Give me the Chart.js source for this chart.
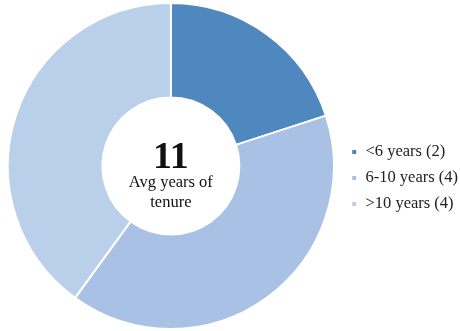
<!DOCTYPE html>
<html>
<head>
<meta charset="utf-8">
<script src="https://cdn.jsdelivr.net/npm/chart.js@4"></script>
<style>
  html, body { margin: 0; padding: 0; background: #fff; overflow: hidden; }
  #wrap { position: relative; width: 468px; height: 331px; }
</style>
</head>
<body>
<div id="wrap"><canvas id="tenure"></canvas></div>
<script>
const labels = ['<6 years (2)', '6-10 years (4)', '>10 years (4)'];
const counts = [2, 4, 4];
const colors = ['#4f87bf', '#a8c1e4', '#b9cfea'];
const avgYears = '11';
const centerLines = ['Avg years of', 'tenure'];

const FONT = "'Liberation Serif', 'Times New Roman', serif";

// headline number and caption in the hole of the ring
const centerText = {
  id: 'centerText',
  afterDraw(chart) {
    const meta = chart.getDatasetMeta(0);
    if (!meta.data.length) return;
    const { x, y } = meta.data[0];
    const ctx = chart.ctx;
    ctx.save();
    ctx.fillStyle = '#111';
    ctx.textAlign = 'center';
    ctx.textBaseline = 'alphabetic';
    ctx.font = 'bold 38px ' + FONT;
    ctx.fillText(avgYears, x, y + 2);
    ctx.font = '16.5px ' + FONT;
    ctx.fillText(centerLines[0], x, y + 21);
    ctx.fillText(centerLines[1], x, y + 41);
    ctx.restore();
  }
};

new Chart(document.getElementById('tenure'), {
  type: 'doughnut',
  data: {
    labels,
    datasets: [{
      data: counts,
      backgroundColor: colors,
      borderColor: '#fff',
      borderWidth: 2,
      hoverOffset: 0
    }]
  },
  options: {
    responsive: true,
    maintainAspectRatio: false,
    animation: false,
    cutout: '42%',
    layout: { padding: { top: 2, bottom: 1, left: 0, right: 0 } },
    plugins: {
      tooltip: { enabled: false },
      legend: {
        position: 'right',
        // blank title only pushes the entries a little below centre
        title: { display: true, text: '', padding: 0, font: { size: 20 } },
        labels: {
          font: { family: FONT, size: 16.5 },
          color: '#222',
          boxWidth: 6,
          boxHeight: 6,
          padding: 9.5
        }
      }
    }
  },
  plugins: [centerText]
});
</script>
</body>
</html>
